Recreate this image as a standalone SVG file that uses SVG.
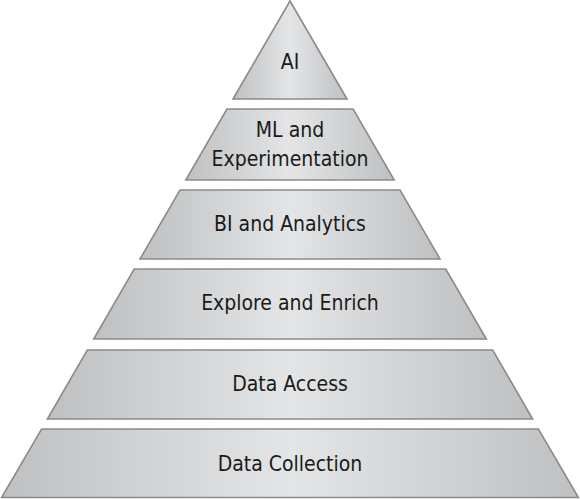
<svg xmlns="http://www.w3.org/2000/svg" width="580" height="499" viewBox="0 0 580 499">
  <defs>
    <linearGradient id="metal" x1="0" y1="0" x2="1" y2="0">
      <stop offset="0" stop-color="#bfc0c2"/>
      <stop offset="0.5" stop-color="#e4e5e6"/>
      <stop offset="1" stop-color="#bfc0c2"/>
    </linearGradient>
  </defs>
  <style>
    .tier { fill: url(#metal); stroke: #8a8b8d; stroke-width: 1.6; stroke-linejoin: miter; }
    .lbl { font-family: "DejaVu Sans Condensed", "Liberation Sans", sans-serif; font-stretch: condensed; font-size: 21px; fill: #1a1a1a; text-anchor: middle; }
  </style>
  <rect width="580" height="499" fill="#ffffff"/>
  <g id="connectors"/>
  <g id="ai">
    <polygon class="tier" points="290,1 347,99 233,99"/>
    <text class="lbl" x="290" y="69">AI</text>
  </g>
  <g id="ml">
    <polygon class="tier" points="226.9,109 353.1,109 394.2,180 185.8,180"/>
    <text class="lbl" x="290" y="137">ML and</text>
    <text class="lbl" x="290" y="166">Experimentation</text>
  </g>
  <g id="bi">
    <polygon class="tier" points="180,190 400,190 440,259 140,259"/>
    <text class="lbl" x="290" y="231">BI and Analytics</text>
  </g>
  <g id="explore">
    <polygon class="tier" points="134.2,269 445.8,269 486.3,339 93.7,339"/>
    <text class="lbl" x="290" y="310">Explore and Enrich</text>
  </g>
  <g id="access">
    <polygon class="tier" points="87.3,350 492.7,350 532.6,419 47.4,419"/>
    <text class="lbl" x="290" y="391">Data Access</text>
  </g>
  <g id="collection">
    <polygon class="tier" points="41.6,429 538.4,429 578.4,497.5 1.6,497.5"/>
    <text class="lbl" x="290" y="471">Data Collection</text>
  </g>
</svg>
